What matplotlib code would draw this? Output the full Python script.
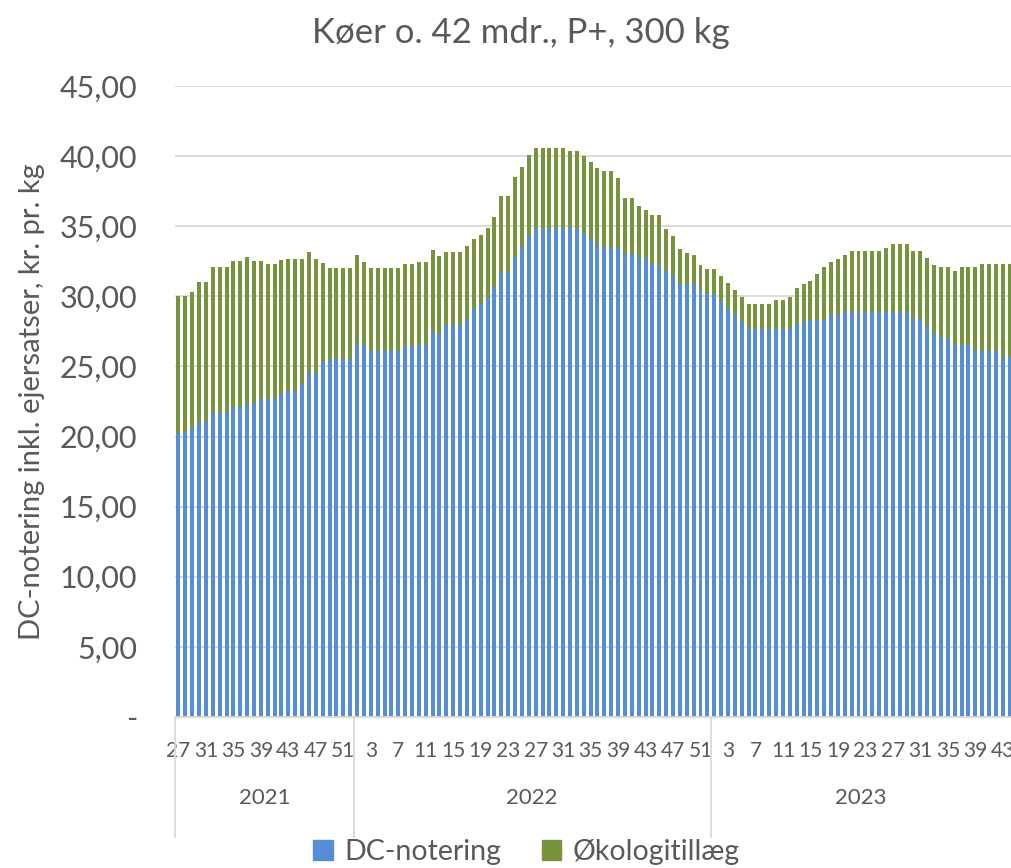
import matplotlib
matplotlib.use("Agg")
import matplotlib.pyplot as plt
from matplotlib.lines import Line2D
from matplotlib.patches import Patch
import numpy as np

plt.rcParams["font.family"] = ["Lato", "DejaVu Sans"]

TITLE = "Køer o. 42 mdr., P+, 300 kg"
YLABEL = "DC-notering inkl. ejersatser, kr. pr. kg"
SERIES = ["DC-notering", "Økologitillæg"]
COLORS = ["#558ED5", "#77933C"]

YEARS = ["2021", "2022", "2023"]
WEEKS_2021 = list(range(27, 53))
WEEKS_2022 = list(range(1, 53))
WEEKS_2023 = list(range(1, 45))

# DC-notering (kr./kg) per week
DC_2021 = [20.24, 20.30, 20.60, 21.07, 21.07, 21.67, 21.67, 21.67, 22.10, 22.10,
           22.40, 22.40, 22.67, 22.67, 22.67, 22.95, 23.24, 23.24, 23.74, 24.52,
           24.52, 25.30, 25.55, 25.55, 25.55, 25.55]
DC_2022 = [26.55, 26.55, 26.07, 26.07, 26.07, 26.07, 26.07, 26.36, 26.36, 26.55,
           26.55, 27.38, 27.38, 27.95, 27.95, 27.95, 28.36, 29.10, 29.43, 29.90,
           30.69, 31.67, 31.67, 32.80, 33.55, 34.29, 34.90, 34.90, 34.90, 34.90,
           34.90, 34.90, 34.90, 34.50, 34.10, 33.67, 33.43, 33.43, 33.43, 33.05,
           33.05, 32.71, 32.71, 32.33, 32.33, 31.81, 31.36, 30.90, 30.90, 30.90,
           30.40, 30.17]
DC_2023 = [30.17, 29.67, 29.14, 28.64, 28.14, 27.67, 27.67, 27.67, 27.67, 27.67,
           27.67, 27.67, 28.10, 28.10, 28.31, 28.31, 28.31, 28.64, 28.64, 28.90,
           28.90, 28.90, 28.90, 28.90, 28.90, 28.90, 28.90, 28.90, 28.90, 28.38,
           28.38, 27.90, 27.40, 27.00, 27.00, 26.50, 26.50, 26.50, 26.10, 26.10,
           26.10, 26.10, 25.70, 25.70]

# Økologitillæg (kr./kg) per week
OKO_2021 = [9.76, 9.70, 9.70, 9.93, 9.93, 10.43, 10.43, 10.43, 10.40, 10.40,
            10.40, 10.15, 9.88, 9.63, 9.63, 9.65, 9.41, 9.41, 8.91, 8.62,
            8.13, 7.10, 6.45, 6.45, 6.45, 6.45]
OKO_2022 = [6.43, 5.93, 5.93, 5.93, 5.93, 5.93, 5.93, 5.94, 5.94, 5.93,
            5.93, 5.93, 5.52, 5.24, 5.24, 5.24, 5.24, 5.00, 4.95, 5.00,
            4.98, 5.47, 5.47, 5.70, 5.69, 5.76, 5.68, 5.68, 5.68, 5.68,
            5.68, 5.46, 5.46, 5.48, 5.47, 5.50, 5.50, 5.50, 5.00, 3.95,
            3.95, 3.74, 3.48, 3.46, 3.46, 3.00, 2.93, 2.50, 2.22, 2.08,
            1.81, 1.81]
OKO_2023 = [1.81, 1.81, 1.84, 1.84, 1.84, 1.81, 1.81, 1.81, 1.81, 2.07,
            2.07, 2.31, 2.52, 2.78, 2.81, 3.31, 3.81, 3.81, 4.05, 4.05,
            4.30, 4.30, 4.30, 4.30, 4.30, 4.58, 4.81, 4.81, 4.81, 4.82,
            4.82, 4.81, 4.81, 5.07, 5.07, 5.33, 5.57, 5.57, 5.97, 6.21,
            6.21, 6.21, 6.61, 6.61]

weeks = WEEKS_2021 + WEEKS_2022 + WEEKS_2023
dc = np.array(DC_2021 + DC_2022 + DC_2023)
oko = np.array(OKO_2021 + OKO_2022 + OKO_2023)
x = np.arange(len(weeks))
group_sizes = [len(WEEKS_2021), len(WEEKS_2022), len(WEEKS_2023)]

GREY = "#595959"
GRID = "#D9D9D9"
XMAX = 121.2   # chart is cropped at the right edge in the source

fig = plt.figure(figsize=(10.11, 8.68), dpi=100)
ax = fig.add_axes([175 / 1011, 1 - 717 / 868, 1 - 175 / 1011, (717 - 86) / 868])

ax.bar(x, dc, width=0.58, color=COLORS[0], zorder=2)
ax.bar(x, oko, bottom=dc, width=0.58, color=COLORS[1], zorder=2)

ax.set_xlim(-0.5, XMAX)
ax.set_ylim(0, 45)
yt = np.arange(0, 46, 5)
ax.set_yticks(yt)
ax.set_yticklabels(["-" if v == 0 else f"{v:.2f}".replace(".", ",") for v in yt])
ax.yaxis.grid(True, color=GRID, lw=1.3, zorder=0)
ax.tick_params(axis="y", length=0, pad=27, labelsize=22, labelcolor=GREY)
for s in ["top", "right", "left"]:
    ax.spines[s].set_visible(False)
ax.spines["bottom"].set_color(GRID)
ax.spines["bottom"].set_linewidth(1.3)

# week ticks every 4th category
idx = x[::4]
ax.set_xticks(idx)
ax.set_xticklabels([str(weeks[i]) for i in idx])
ax.tick_params(axis="x", length=0, pad=17, labelsize=15, labelcolor=GREY)

# year groups with separators
trans = ax.get_xaxis_transform()
edges = np.concatenate([[0], np.cumsum(group_sizes)]) - 0.5
for e in edges[:-1]:
    ax.add_line(Line2D([e, e], [0, -0.19], transform=trans, color=GRID,
                       lw=1.3, clip_on=False))
for yr, a, b in zip(YEARS, edges[:-1], edges[1:]):
    b = min(b, XMAX)
    ax.text((a + b) / 2, -0.128, yr, transform=trans, ha="center", va="center",
            fontsize=16, color=GREY)

ax.set_ylabel(YLABEL, fontsize=21, color=GREY)
ax.yaxis.set_label_coords(-0.155, 0.5)
fig.text(0.515, 0.962, TITLE, ha="center", va="center", fontsize=25, color=GREY)

handles = [Patch(color=c, label=l) for c, l in zip(COLORS, SERIES)]
fig.legend(handles=handles, loc="center", bbox_to_anchor=(0.521, 0.018),
           ncol=2, frameon=False, fontsize=20.5, labelcolor=GREY,
           handlelength=0.7, handleheight=0.7, handletextpad=0.4,
           columnspacing=1.4)

fig.savefig("out.png", dpi=100)
